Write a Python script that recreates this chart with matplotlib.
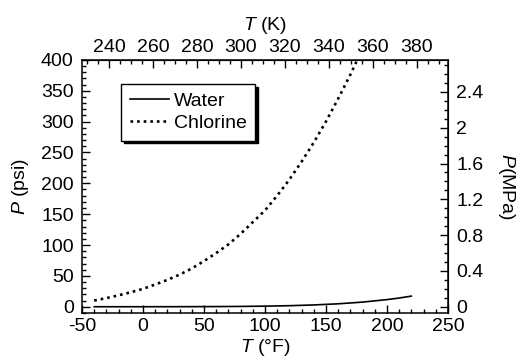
import numpy as np
import matplotlib
matplotlib.use('Agg')
import matplotlib.pyplot as plt
from matplotlib.ticker import MultipleLocator

plt.rcParams['font.family'] = ['Liberation Sans', 'DejaVu Sans']
plt.rcParams['mathtext.fontset'] = 'custom'
plt.rcParams['mathtext.it'] = 'Liberation Sans:italic'
plt.rcParams['mathtext.rm'] = 'Liberation Sans'
plt.rcParams['axes.unicode_minus'] = False

# vapour pressure data (psi)
t_water = [-40, 0, 20, 40, 60, 80, 100, 120, 140, 160, 180, 200, 210, 220]
p_water = [0.002, 0.019, 0.05, 0.12, 0.26, 0.51, 0.95, 1.69, 2.89, 4.74, 7.51, 11.53, 14.1, 17.2]

t_chlorine = [-40, -30, -20, -10, 0, 10, 20, 30, 40, 50, 60, 70, 80, 90, 100,
              110, 120, 130, 140, 150, 160, 170, 180]
p_chlorine = [10, 14, 18.5, 23.5, 29, 36, 43.5, 52, 62, 74, 87, 101, 118, 137, 156,
              180, 206, 235, 266, 300, 337, 376, 418]

fs = 14

fig = plt.figure(figsize=(5.19, 3.63), dpi=100)
ax = fig.add_axes([0.158, 0.138, 0.705, 0.697])

ax.plot(t_water, p_water, color='black', lw=1.2, label='Water')
ax.plot(t_chlorine, p_chlorine, color='black', lw=1.9, linestyle=(0, (1, 1.5)), label='Chlorine')

ax.set_xlim(-50, 250)
ax.set_ylim(-10, 400)
ax.xaxis.set_major_locator(MultipleLocator(50))
ax.xaxis.set_minor_locator(MultipleLocator(10))
ax.yaxis.set_major_locator(MultipleLocator(50))
ax.yaxis.set_minor_locator(MultipleLocator(10))
ax.tick_params(which='both', direction='in', labelsize=fs, width=1.0)
ax.tick_params(which='major', length=6)
ax.tick_params(axis='x', which='major', pad=4)
ax.tick_params(axis='y', which='major', pad=6)
ax.tick_params(which='minor', length=3)
for s in ax.spines.values():
    s.set_linewidth(1.1)

ax.set_xlabel(r'$\it{T}$ (°F)', fontsize=fs, labelpad=1)
ax.set_ylabel(r'$\it{P}$ (psi)', fontsize=fs, labelpad=7)

# top axis: Kelvin
def f2k(f):
    return (np.asarray(f) - 32) * 5 / 9 + 273.15

def k2f(k):
    return (np.asarray(k) - 273.15) * 9 / 5 + 32

top = ax.secondary_xaxis('top', functions=(f2k, k2f))
top.set_xticks(np.arange(240, 381, 20))
top.xaxis.set_minor_locator(MultipleLocator(5))
top.tick_params(which='both', direction='in', labelsize=fs, width=1.0)
top.tick_params(which='major', length=6, pad=3)
top.tick_params(which='minor', length=3)
top.set_xlabel(r'$\it{T}$ (K)', fontsize=fs, labelpad=6)

# right axis: MPa
def psi2mpa(p):
    return np.asarray(p) * 0.00689476

def mpa2psi(m):
    return np.asarray(m) / 0.00689476

right = ax.secondary_yaxis('right', functions=(psi2mpa, mpa2psi))
right.set_yticks([0, 0.4, 0.8, 1.2, 1.6, 2, 2.4])
right.set_yticklabels(['0', '0.4', '0.8', '1.2', '1.6', '2', '2.4'])
right.yaxis.set_minor_locator(MultipleLocator(0.1))
right.tick_params(which='both', direction='in', labelsize=fs, width=1.0)
right.tick_params(which='major', length=6, pad=6)
right.tick_params(which='minor', length=3)
right.set_ylabel(r'$\it{P}$(MPa)', fontsize=fs, rotation=270, labelpad=24)

leg = ax.legend(loc='upper left', bbox_to_anchor=(0.107, 0.905), borderaxespad=0,
                fontsize=fs, frameon=True, fancybox=False, handlelength=2.0,
                handletextpad=0.25, borderpad=0.45, labelspacing=0.2,
                shadow={'color': 'black', 'alpha': 1})
leg.get_frame().set_edgecolor('black')
leg.get_frame().set_linewidth(1.0)

fig.savefig('out.png', dpi=100)
